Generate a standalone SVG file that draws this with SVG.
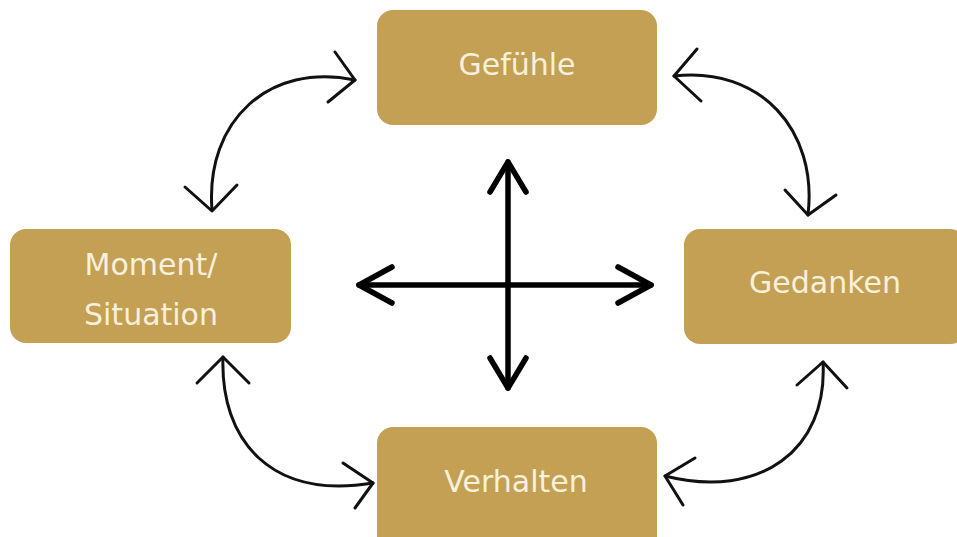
<svg xmlns="http://www.w3.org/2000/svg" width="957" height="537" viewBox="0 0 957 537">
<style>
.box{fill:#c3a053;}
.lbl{fill:#f7f0dc;font-family:"DejaVu Sans",Verdana,sans-serif;font-size:30px;text-anchor:middle;}
.cv{fill:none;stroke:#111;stroke-width:3;stroke-linecap:round;stroke-linejoin:round;}
.cx{fill:none;stroke:#000;stroke-width:5.5;stroke-linecap:round;stroke-linejoin:round;}
</style>
<rect width="957" height="537" fill="#fff"/>
<g id="gefuehle"><rect class="box" x="377" y="10" width="280" height="115" rx="16"/><text class="lbl" x="517" y="75">Gefühle</text></g>
<g id="moment"><rect class="box" x="10" y="229" width="281" height="114" rx="16"/><text class="lbl" x="151" y="275">Moment/</text><text class="lbl" x="151" y="325">Situation</text></g>
<g id="gedanken"><rect class="box" x="684" y="229" width="282" height="115" rx="16"/><text class="lbl" x="825" y="293">Gedanken</text></g>
<g id="verhalten"><rect class="box" x="377" y="427" width="280" height="125" rx="16"/><text class="lbl" x="516" y="492">Verhalten</text></g>
<g id="connectors">
<path class="cv" d="M212,210 C205,120 270,62 355,80"/>
<polyline class="cv" points="335,52 355,80 328,102"/>
<polyline class="cv" points="185,187 212,211 237,185"/>
<path class="cv" d="M674,76 C760,66 818,130 808,215"/>
<polyline class="cv" points="697,49 674,76 701,101"/>
<polyline class="cv" points="785,190 808,215 836,195"/>
<path class="cv" d="M223,357 C220,440 270,500 373,483"/>
<polyline class="cv" points="197,383 223,357 249,383"/>
<polyline class="cv" points="343,463 373,483 355,508"/>
<path class="cv" d="M823,362 C828,450 760,500 665,476"/>
<polyline class="cv" points="797,385 823,362 847,388"/>
<polyline class="cv" points="695,458 665,476 683,505"/>
<line class="cx" x1="359" y1="285" x2="651" y2="285"/>
<line class="cx" x1="508" y1="162" x2="508" y2="388"/>
<polyline class="cx" points="392,267 359,285 392,303"/>
<polyline class="cx" points="618,267 651,285 618,303"/>
<polyline class="cx" points="490,192 508,162 526,192"/>
<polyline class="cx" points="490,358 508,388 526,358"/>
</g>
</svg>
